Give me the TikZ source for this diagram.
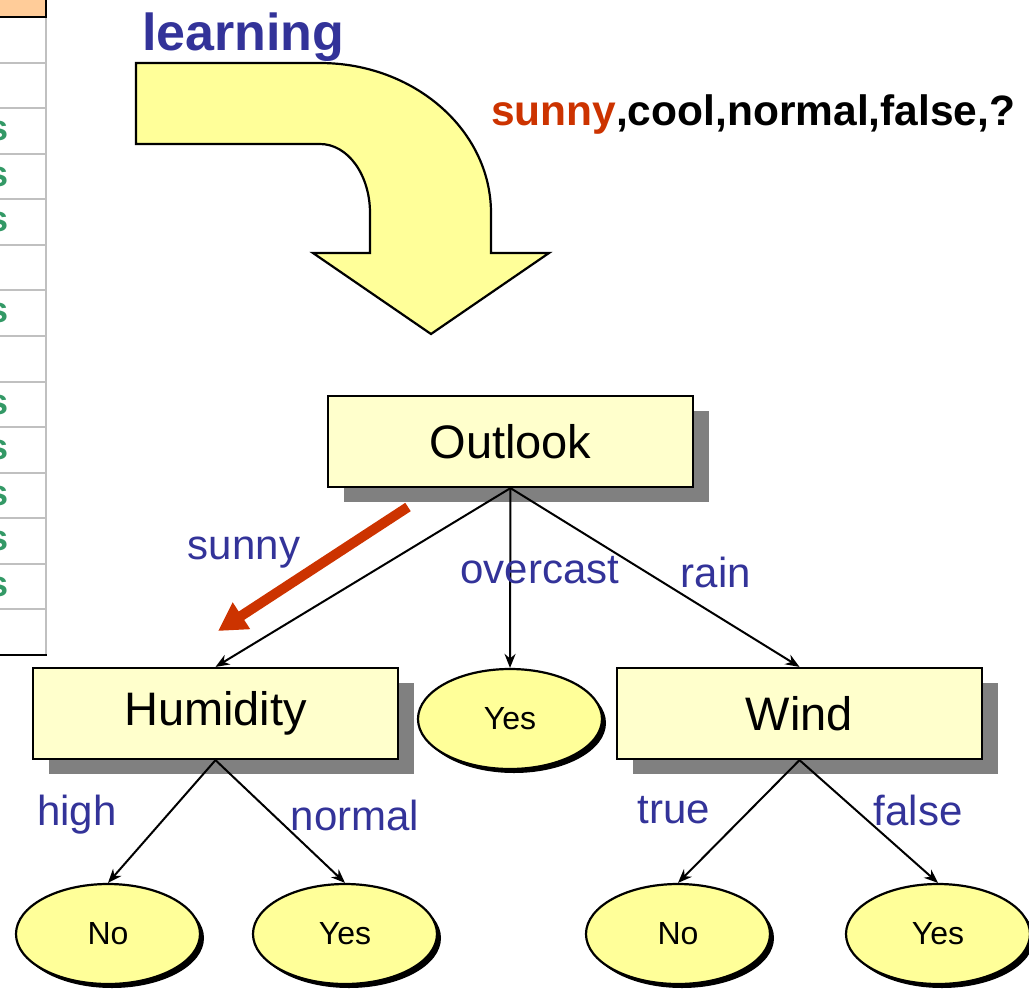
\documentclass[tikz,border=0pt]{standalone}
\usepackage{fontspec}
\setmainfont{Liberation Sans}
\usetikzlibrary{%
  arrows,%
  arrows.meta,%
  shapes,% wg. ellipse
  shadows,%
  positioning%
}

\definecolor{lblue}{HTML}{333399}
\definecolor{sunred}{HTML}{CC3300}
\definecolor{boxyellow}{HTML}{FFFFCC}
\definecolor{leafyellow}{HTML}{FFFF99}
\definecolor{shadowgray}{HTML}{808080}
\definecolor{tabgreen}{HTML}{339966}
\definecolor{tabgrid}{HTML}{C0C0C0}
\definecolor{headorange}{HTML}{FFCC99}
\definecolor{headnavy}{HTML}{000080}

\begin{document}
\begin{tikzpicture}[x=1pt, y=-1pt, >={Stealth[length=14pt,width=11pt]}, line width=2pt,
  attr/.style={draw=black, line width=2.2pt, fill=boxyellow, minimum width=365pt,
    minimum height=91pt, inner sep=0pt, font=\fontsize{47}{50}\selectfont,
    drop shadow={shadow xshift=16pt, shadow yshift=-15pt, fill=shadowgray, opacity=1}},
  leaf/.style={ellipse, draw=black, line width=2.2pt, fill=leafyellow, minimum width=184pt,
    minimum height=100pt, inner sep=0pt, font=\fontsize{32}{34}\selectfont,
    drop shadow={shadow xshift=4pt, shadow yshift=-4pt, fill=black, opacity=1}},
  branch/.style={text=lblue, font=\fontsize{42}{44}\selectfont, inner sep=0pt},
  tabtext/.style={anchor=base, inner sep=0pt, font=\bfseries\fontsize{36}{38}\selectfont}
]
\useasboundingbox (0,0) rectangle (1029,989);

% -------- table, cut off at the left
\fill[headorange] (0,0) rectangle (46,17);
\begin{scope}
  \clip (0,0) rectangle (44,655);
  \node[tabtext, text=headnavy] (head) at (-10,12) {s};
  \foreach \v [count=\i] in {No,No,Yes,Yes,Yes,No,Yes,No,Yes,Yes,Yes,Yes,Yes,No}
    \node[tabtext, text=tabgreen] (row\i) at (-23,{17+45.57*\i-13}) {\v};
\end{scope}
\foreach \i in {1,...,13}
  \draw[tabgrid, line width=2pt] (0,{17+45.57*\i}) -- (45,{17+45.57*\i});
\draw[tabgrid, line width=2.5pt] (46,17) -- (46,655);
\draw[line width=2pt] (0,17) -- (47,17);
\draw[line width=2pt] (46,0) -- (46,17);
\draw[line width=2.5pt] (0,655) -- (47,655);

% -------- learning arrow
\node[text=lblue, anchor=base west, inner sep=0pt, font=\bfseries\fontsize{52}{56}\selectfont]
  (learn) at (141,50) {learning};
\draw[fill=leafyellow, line width=2.2pt] (136,63) -- (320,63)
  .. controls (414,63) and (491,130) .. (491,213) -- (491,253) -- (549,253)
  -- (431,334) -- (313,253) -- (370,253) -- (370,213)
  .. controls (370,175) and (348,144) .. (320,144) -- (136,144) -- cycle;
\node[anchor=base west, inner sep=0pt, font=\bfseries\fontsize{42.5}{46}\selectfont]
  (query) at (490,125) {\textcolor{sunred}{sunny},cool,normal,false,?};

% -------- tree
\node[attr] (outlook) at (510.5,441.5) {Outlook};
\node[attr] (humid) at (215.5,713.5) {Humidity};
\node[attr] (wind) at (799.5,713.5) {Wind};
\node[leaf] (yes1) at (510,719) {Yes};
\node[leaf] (no2) at (108,934) {No};
\node[leaf] (yes2) at (345,934) {Yes};
\node[leaf] (no3) at (678,934) {No};
\node[leaf] (yes3) at (938,934) {Yes};

\draw[->] (outlook.south) -- (humid.north);
\draw[->] (outlook.south) -- (yes1.north);
\draw[->] (outlook.south) -- (wind.north);
\draw[->] (humid.south) -- (no2.north);
\draw[->] (humid.south) -- (yes2.north);
\draw[->] (wind.south) -- (no3.north);
\draw[->] (wind.south) -- (yes3.north);

\node[branch] (lsunny) at (244,553) {sunny};
\node[branch] (lover) at (540,570) {overcast};
\node[branch] (lrain) at (716,572) {rain};
\node[branch] (lhigh) at (77,815) {high};
\node[branch] (lnormal) at (355,815) {normal};
\node[branch] (ltrue) at (674,810) {true};
\node[branch] (lfalse) at (918,810) {false};

% -------- chosen branch
\coordinate (redfrom) at (408,507);
\coordinate (redto) at (218,631);
\draw[sunred, line width=10pt, -{Triangle[length=28pt,width=30pt]}] (redfrom) -- (redto);

\end{tikzpicture}
\end{document}
